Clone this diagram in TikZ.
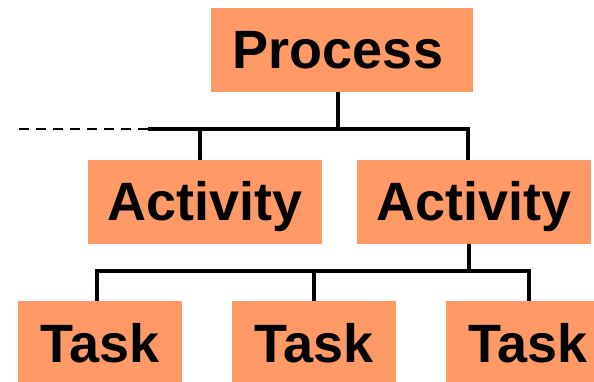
\documentclass[tikz,border=0pt]{standalone}
\usepackage{fontspec}
\setmainfont{Liberation Sans}
\definecolor{boxfill}{HTML}{FF9966}
\begin{document}
\begin{tikzpicture}[x=1pt,y=-1pt,
  box/.style={rectangle,fill=boxfill,inner sep=0pt,minimum height=84pt,
    text height=42pt,text depth=4pt,font=\fontsize{54}{60}\selectfont\bfseries},
  bus/.style={line width=4.5pt,line join=miter,black},
  dashline/.style={line width=2pt,dash pattern=on 10pt off 7pt,black}]
\useasboundingbox (0,0) rectangle (594,382);
\clip (0,0) rectangle (594,382);
\node[box,minimum width=262pt] (P) at (342,50) {\hspace*{-8pt}Process};
\node[box,minimum width=234pt] (A1) at (205,202) {Activity};
\node[box,minimum width=234pt] (A2) at (474,202) {Activity};
\node[box,minimum width=164pt] (T1) at (100,343) {Task};
\node[box,minimum width=164pt] (T2) at (314,343) {Task};
\node[box,minimum width=164pt] (T3) at (528,343) {Task};
\coordinate (d0) at (15,129);
\coordinate (b1) at (148,129);
\coordinate (b2) at (468,129);
\coordinate (c1) at (97,271);
\coordinate (c2) at (529,271);
\draw[dashline] (b1) -- (d0);
\draw[bus] (b1) -- (b2) -- (b2 |- A2.north);
\draw[bus] ([xshift=-4pt]P.south) -- ([xshift=-4pt]P.south |- b1);
\draw[bus] ([xshift=-5pt]A1.north) -- ([xshift=-5pt]A1.north |- b1);
\draw[bus] (c1 |- T1.north) -- (c1) -- (c2) -- (c2 |- T3.north);
\draw[bus] ([xshift=-5pt]A2.south) -- ([xshift=-5pt]A2.south |- c1);
\draw[bus] (T2.north) -- (T2.north |- c1);
\end{tikzpicture}
\end{document}
